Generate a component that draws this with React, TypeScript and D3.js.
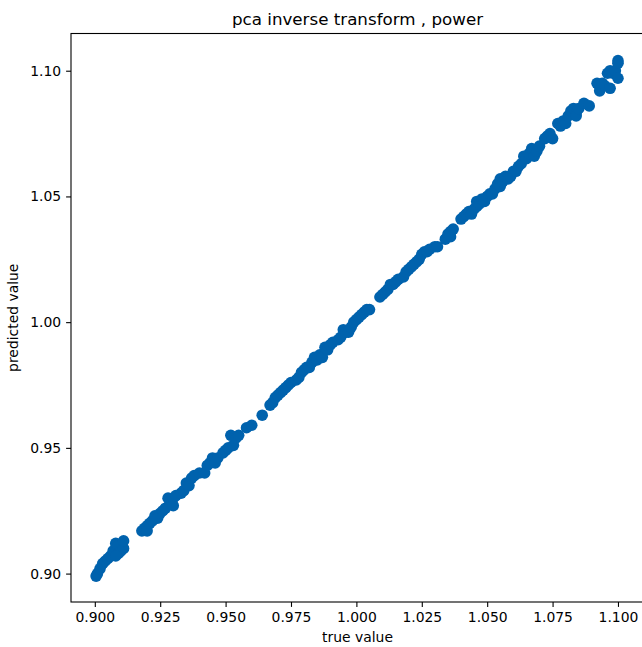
import React, { useEffect, useRef } from 'react';
import * as d3 from 'd3';

// true value (x) and predicted value (y)
const trueVals: number[] = [
  0.9005, 0.901, 0.902, 0.903, 0.904, 0.905, 0.906, 0.907, 0.908, 0.909, 0.909, 0.910, 0.911, 0.911, 0.908,
  0.918, 0.919, 0.920, 0.920, 0.921, 0.922, 0.923, 0.924, 0.925, 0.926, 0.927, 0.928, 0.929, 0.930, 0.930,
  0.931, 0.933, 0.934, 0.935, 0.936, 0.937, 0.938, 0.940, 0.942, 0.943, 0.944, 0.945, 0.946, 0.947, 0.949,
  0.950, 0.951, 0.952, 0.953, 0.954, 0.955, 0.958, 0.960, 0.964, 0.967, 0.968, 0.969, 0.970, 0.971, 0.972,
  0.973, 0.974, 0.975, 0.977, 0.978, 0.979, 0.980, 0.981, 0.982, 0.983, 0.984, 0.985, 0.986, 0.987, 0.988,
  0.989, 0.990, 0.991, 0.993, 0.994, 0.995, 0.996, 0.997, 0.998, 0.999, 1.000, 1.001, 1.002, 1.003, 1.004,
  1.005, 1.009, 1.010, 1.011, 1.012, 1.013, 1.014, 1.015, 1.016, 1.018, 1.019, 1.020, 1.021, 1.022, 1.023,
  1.024, 1.025, 1.026, 1.027, 1.028, 1.030, 1.031, 1.034, 1.035, 1.036, 1.036, 1.037, 1.040, 1.041, 1.042,
  1.043, 1.044, 1.045, 1.046, 1.046, 1.047, 1.048, 1.049, 1.050, 1.051, 1.052, 1.053, 1.054, 1.055, 1.055,
  1.056, 1.057, 1.058, 1.059, 1.060, 1.061, 1.062, 1.063, 1.064, 1.065, 1.066, 1.067, 1.068, 1.069, 1.070,
  1.072, 1.073, 1.074, 1.075, 1.077, 1.078, 1.079, 1.080, 1.081, 1.082, 1.083, 1.084, 1.084, 1.085, 1.087,
  1.089, 1.092, 1.093, 1.093, 1.094, 1.095, 1.096, 1.097, 1.097, 1.098, 1.099, 1.100, 1.100, 1.100,
];

const predVals: number[] = [
  0.899, 0.900, 0.902, 0.904, 0.905, 0.906, 0.907, 0.909, 0.912, 0.911, 0.908, 0.909, 0.910, 0.913, 0.907,
  0.917, 0.918, 0.919, 0.917, 0.920, 0.921, 0.923, 0.922, 0.924, 0.925, 0.926, 0.930, 0.928, 0.927, 0.930,
  0.931, 0.932, 0.933, 0.936, 0.935, 0.938, 0.939, 0.940, 0.940, 0.943, 0.944, 0.946, 0.944, 0.946, 0.948,
  0.949, 0.950, 0.955, 0.951, 0.954, 0.955, 0.958, 0.959, 0.963, 0.967, 0.968, 0.970, 0.971, 0.972, 0.973,
  0.974, 0.975, 0.976, 0.977, 0.978, 0.980, 0.981, 0.982, 0.982, 0.984, 0.986, 0.985, 0.987, 0.986, 0.990,
  0.989, 0.991, 0.992, 0.993, 0.994, 0.997, 0.996, 0.996, 0.998, 1.000, 1.001, 1.002, 1.003, 1.004, 1.005,
  1.005, 1.010, 1.011, 1.012, 1.013, 1.015, 1.015, 1.016, 1.017, 1.018, 1.020, 1.021, 1.022, 1.023, 1.024,
  1.025, 1.027, 1.028, 1.028, 1.029, 1.030, 1.030, 1.033, 1.035, 1.034, 1.036, 1.037, 1.041, 1.042, 1.043,
  1.044, 1.043, 1.045, 1.046, 1.048, 1.047, 1.049, 1.048, 1.050, 1.051, 1.051, 1.053, 1.055, 1.057, 1.054,
  1.056, 1.058, 1.057, 1.058, 1.060, 1.060, 1.062, 1.063, 1.066, 1.065, 1.067, 1.069, 1.066, 1.068, 1.070,
  1.073, 1.074, 1.075, 1.073, 1.079, 1.078, 1.080, 1.079, 1.082, 1.084, 1.085, 1.083, 1.082, 1.085, 1.087,
  1.086, 1.095, 1.094, 1.092, 1.095, 1.094, 1.099, 1.100, 1.093, 1.099, 1.100, 1.104, 1.103, 1.097,
];

const xTicks = [0.9, 0.925, 0.95, 0.975, 1.0, 1.025, 1.05, 1.075, 1.1];
const yTicks = [0.9, 0.95, 1.0, 1.05, 1.1];

const App: React.FC = () => {
  const ref = useRef<SVGSVGElement | null>(null);

  useEffect(() => {
    if (!ref.current) return;
    const svg = d3.select(ref.current);
    svg.selectAll('*').remove();

    const width = 642;
    const height = 647;
    const margin = { top: 33.5, right: -2, bottom: 45, left: 71 };
    const font = 'DejaVu Sans, sans-serif';

    const x = d3.scaleLinear().domain([0.8909, 1.10995]).range([margin.left, width - margin.right]);
    const y = d3.scaleLinear().domain([0.8887, 1.1148]).range([height - margin.bottom, margin.top]);

    const pts = trueVals.map((t, i) => ({ t, p: predVals[i] }));

    svg.append('g')
      .selectAll('circle')
      .data(pts)
      .enter()
      .append('circle')
      .attr('cx', d => x(d.t))
      .attr('cy', d => y(d.p))
      .attr('r', 5.8)
      .attr('fill', '#0062ad');

    // x axis
    const xAxis = svg.append('g')
      .attr('transform', `translate(0,${height - margin.bottom})`)
      .call(d3.axisBottom(x).tickValues(xTicks).tickFormat(d3.format('.3f')).tickSize(4.9).tickPadding(4.9));
    xAxis.select('.domain').remove();
    xAxis.selectAll('line').attr('stroke', '#000').attr('stroke-width', 1.1);
    xAxis.selectAll('text').attr('font-family', font).attr('font-size', 13.9).attr('fill', '#000');

    // y axis
    const yAxis = svg.append('g')
      .attr('transform', `translate(${margin.left},0)`)
      .call(d3.axisLeft(y).tickValues(yTicks).tickFormat(d3.format('.2f')).tickSize(4.9).tickPadding(4.9));
    yAxis.select('.domain').remove();
    yAxis.selectAll('line').attr('stroke', '#000').attr('stroke-width', 1.1);
    yAxis.selectAll('text').attr('font-family', font).attr('font-size', 13.9).attr('fill', '#000');

    // frame
    svg.append('rect')
      .attr('x', margin.left)
      .attr('y', margin.top)
      .attr('width', width - margin.right - margin.left)
      .attr('height', height - margin.bottom - margin.top)
      .attr('fill', 'none')
      .attr('stroke', '#000')
      .attr('stroke-width', 1.1);

    svg.append('text')
      .attr('x', (margin.left + width - margin.right) / 2)
      .attr('y', 25)
      .attr('text-anchor', 'middle')
      .attr('font-family', font)
      .attr('font-size', 16.7)
      .text('pca inverse transform , power');

    svg.append('text')
      .attr('x', (margin.left + width - margin.right) / 2)
      .attr('y', 642)
      .attr('text-anchor', 'middle')
      .attr('font-family', font)
      .attr('font-size', 13.9)
      .text('true value');

    svg.append('text')
      .attr('transform', `translate(18,${(margin.top + height - margin.bottom) / 2}) rotate(-90)`)
      .attr('text-anchor', 'middle')
      .attr('font-family', font)
      .attr('font-size', 13.9)
      .text('predicted value');
  }, []);

  return (
    <svg
      ref={ref}
      width={642}
      height={647}
      style={{ position: 'absolute', left: 0, top: 0, background: '#fff' }}
    />
  );
};

export default App;
